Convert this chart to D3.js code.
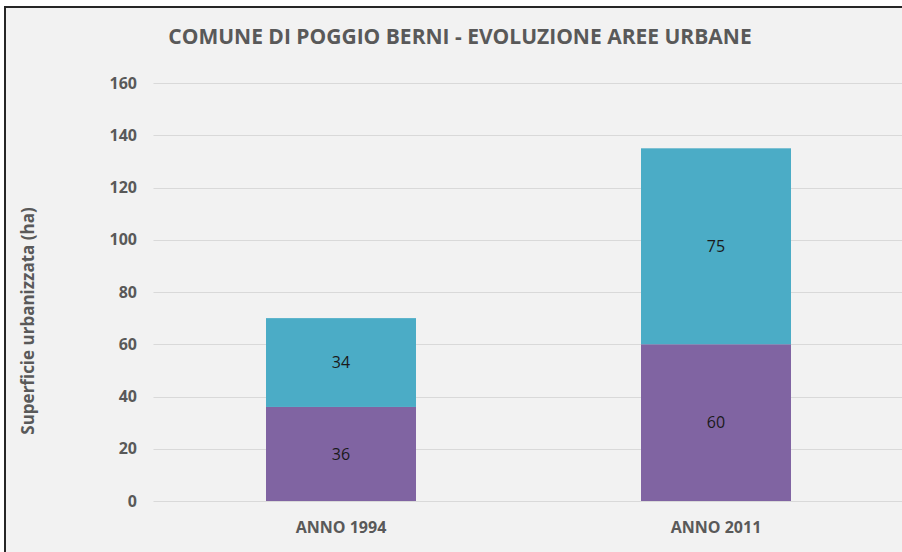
<!DOCTYPE html>
<html>
<head>
<meta charset="utf-8">
<script src="https://cdn.jsdelivr.net/npm/d3@7"></script>
<style>
  html, body { margin: 0; padding: 0; background: #ffffff; }
  svg { display: block; }
</style>
</head>
<body>
<svg id="chart" width="902" height="552"></svg>
<script>
// Urban area of the municipality, hectares, split into two stacked components
const categories = ["ANNO 1994", "ANNO 2011"];
const seriesBase = [36, 60];   // lower segment (purple)
const seriesAdded = [34, 75];  // upper segment (teal)
const yTicks = [0, 20, 40, 60, 80, 100, 120, 140, 160];
const titleText = "COMUNE DI POGGIO BERNI - EVOLUZIONE AREE URBANE";
const yAxisTitle = "Superficie urbanizzata (ha)";

const svg = d3.select("#chart");
const W = 902, H = 552;
const font = "'Open Sans', 'DejaVu Sans', sans-serif";

// chart frame
svg.append("rect")
  .attr("x", 5).attr("y", 7)
  .attr("width", W + 10).attr("height", H + 10)
  .attr("fill", "#f2f2f2")
  .attr("stroke", "#262626").attr("stroke-width", 2);

const plot = { left: 153.5, right: 903.5, top: 83, bottom: 501 };

const x = d3.scaleBand()
  .domain(categories)
  .range([plot.left, plot.right])
  .paddingInner(0.6)
  .paddingOuter(0.3);

const y = d3.scaleLinear()
  .domain([0, 160])
  .range([plot.bottom, plot.top]);

// gridlines
svg.append("g")
  .selectAll("line")
  .data(yTicks)
  .join("line")
  .attr("x1", plot.left).attr("x2", W)
  .attr("y1", d => Math.round(y(d)) + 0.5)
  .attr("y2", d => Math.round(y(d)) + 0.5)
  .attr("stroke", "#d9d9d9").attr("stroke-width", 1);

// y tick labels
const yAxis = d3.axisLeft(y).tickValues(yTicks).tickSize(0).tickPadding(0);
const gy = svg.append("g")
  .attr("transform", `translate(137,0)`)
  .call(yAxis);
gy.select(".domain").remove();
gy.selectAll("text")
  .attr("font-family", font)
  .attr("font-size", 16)
  .attr("font-weight", "bold")
  .attr("fill", "#595959");

// stacked data
const rows = categories.map((c, i) => ({ cat: c, base: seriesBase[i], added: seriesAdded[i] }));
const stack = d3.stack().keys(["base", "added"]);
const layers = stack(rows);
const colors = { base: "#8064a2", added: "#4bacc6" };

const gBars = svg.append("g");
layers.forEach(layer => {
  gBars.append("g")
    .selectAll("rect")
    .data(layer)
    .join("rect")
    .attr("x", d => x(d.data.cat))
    .attr("width", x.bandwidth())
    .attr("y", d => y(d[1]))
    .attr("height", d => y(d[0]) - y(d[1]))
    .attr("fill", colors[layer.key]);

  // value labels centred in each segment
  gBars.append("g")
    .selectAll("text")
    .data(layer)
    .join("text")
    .attr("x", d => x(d.data.cat) + x.bandwidth() / 2)
    .attr("y", d => y((d[0] + d[1]) / 2))
    .attr("dy", "0.35em")
    .attr("text-anchor", "middle")
    .attr("font-family", font)
    .attr("font-size", 16)
    .attr("fill", "#1a1a1a")
    .text(d => d.data[layer.key]);
});

// category labels
const xAxis = d3.axisBottom(x).tickSize(0).tickPadding(0);
const gx = svg.append("g")
  .attr("transform", `translate(0,${plot.bottom + 32})`)
  .call(xAxis);
gx.select(".domain").remove();
gx.selectAll("text")
  .attr("dy", 0)
  .attr("font-family", font)
  .attr("font-size", 16)
  .attr("font-weight", "bold")
  .attr("fill", "#595959");

// title
svg.append("text")
  .attr("x", 460).attr("y", 44)
  .attr("text-anchor", "middle")
  .attr("font-family", font)
  .attr("font-size", 21)
  .attr("font-weight", "bold")
  .attr("fill", "#595959")
  .text(titleText);

// y axis title
svg.append("text")
  .attr("transform", "translate(34,321) rotate(-90)")
  .attr("text-anchor", "middle")
  .attr("font-family", font)
  .attr("font-size", 17)
  .attr("font-weight", "bold")
  .attr("fill", "#595959")
  .text(yAxisTitle);
</script>
</body>
</html>
